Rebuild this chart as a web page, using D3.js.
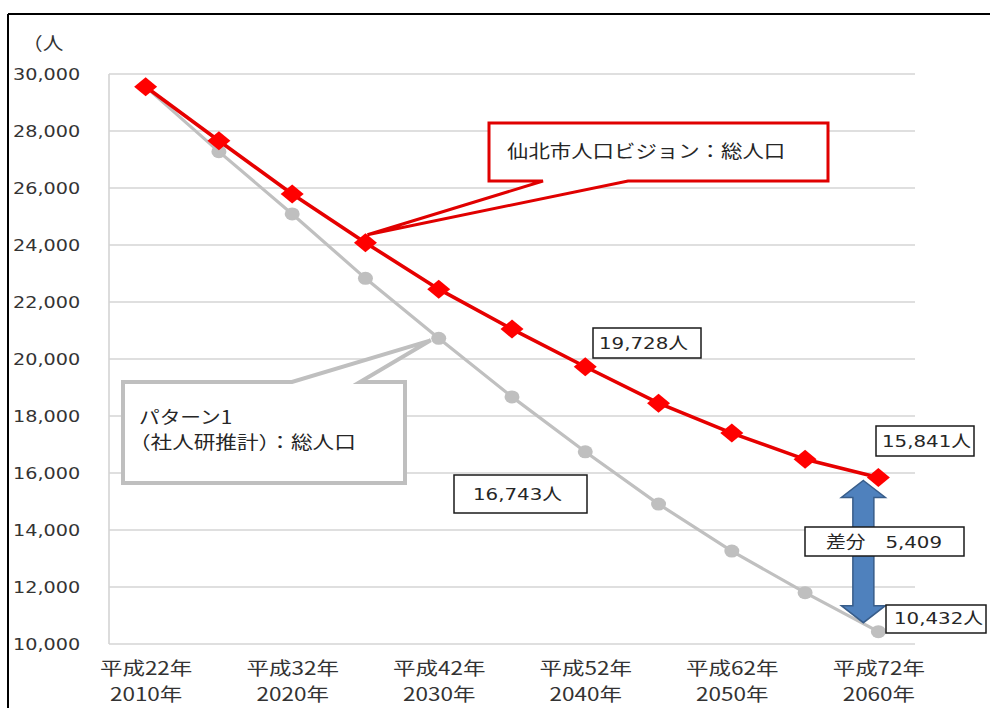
<!DOCTYPE html>
<html><head><meta charset="utf-8">
<script src="https://cdn.jsdelivr.net/npm/d3@7/dist/d3.min.js"></script>
<style>body{margin:0;background:#fff;}svg{display:block;}</style>
</head><body>
<script>
const years = [2010, 2015, 2020, 2025, 2030, 2035, 2040, 2045, 2050, 2055, 2060];
const labeledYears = [2010, 2020, 2030, 2040, 2050, 2060];
const eraLabels = ["平成22年", "平成32年", "平成42年", "平成52年", "平成62年", "平成72年"];
const yearLabels = ["2010年", "2020年", "2030年", "2040年", "2050年", "2060年"];
const yTicks = [10000, 12000, 14000, 16000, 18000, 20000, 22000, 24000, 26000, 28000, 30000];
const visionName = "仙北市人口ビジョン：総人口";
const visionValues = [29550, 27660, 25790, 24080, 22450, 21050, 19728, 18450, 17400, 16480, 15841];
const projName1 = "パターン1";
const projName2 = "（社人研推計）：総人口";
const projValues = [29550, 27275, 25090, 22830, 20725, 18670, 16743, 14910, 13260, 11800, 10432];
const diffLabel = "差分　5,409";
const unitLabel = "（人";

const W = 990, H = 708;
const FONT = "'DejaVu Sans','Noto Sans CJK JP',sans-serif";
const JFONT = "'Noto Sans CJK JP','DejaVu Sans',sans-serif";
const svg = d3.select("body").append("svg").attr("width", W).attr("height", H);

const x = d3.scalePoint().domain(years).range([109, 915]).padding(0.5);
const y = d3.scaleLinear().domain([10000, 30000]).range([644, 74]);

function stext(g, px, py, str, o) {
  o = o || {};
  return g.append("text")
    .attr("transform", `translate(${px},${py}) scale(${o.sx || 1.2},1)`)
    .attr("text-anchor", o.anchor || "start")
    .attr("font-family", o.font || FONT)
    .attr("font-size", o.size || 16)
    .attr("fill", o.fill || "#262626")
    .text(str);
}

// outer frame lines
svg.append("line").attr("x1", 8).attr("x2", W).attr("y1", 14).attr("y2", 14).attr("stroke", "#000").attr("stroke-width", 2);
svg.append("line").attr("x1", 8).attr("x2", 8).attr("y1", 14).attr("y2", H).attr("stroke", "#000").attr("stroke-width", 2);

// gridlines
svg.append("g").selectAll("line").data(yTicks).join("line")
  .attr("x1", 109).attr("x2", 915)
  .attr("y1", d => y(d)).attr("y2", d => y(d))
  .attr("stroke", "#d4d4d4").attr("stroke-width", 1.6);
svg.append("line").attr("x1", 109).attr("x2", 109).attr("y1", y(30000)).attr("y2", y(10000))
  .attr("stroke", "#d4d4d4").attr("stroke-width", 1.6);

// y axis
const ya = svg.append("g").attr("transform", "translate(109,0)")
  .call(d3.axisLeft(y).tickValues(yTicks).tickSize(0).tickFormat(d3.format(",")));
ya.select(".domain").remove();
ya.selectAll("text").attr("x", -24).attr("transform", "scale(1.2,1)")
  .attr("font-family", FONT).attr("font-size", 16).attr("fill", "#333");

// x axis
const xa = svg.append("g").attr("transform", "translate(0,644)")
  .call(d3.axisBottom(x).tickValues(labeledYears).tickSize(0).tickFormat(""));
xa.select(".domain").remove();
xa.selectAll(".tick").each(function (d, i) {
  const t = d3.select(this);
  t.selectAll("text").remove();
  stext(t, 0, 31, eraLabels[i], { anchor: "middle", font: JFONT, size: 18, sx: 1.25, fill: "#333" });
  stext(t, 0, 57, yearLabels[i], { anchor: "middle", font: JFONT, size: 18, sx: 1.25, fill: "#333" });
});

// unit
stext(svg, 22, 50, unitLabel, { font: JFONT, size: 18, sx: 1.15, fill: "#333" });

// lines
const line = d3.line().x((d, i) => x(years[i])).y(d => y(d));
svg.append("path").datum(projValues).attr("d", line).attr("fill", "none")
  .attr("stroke", "#c0c0c0").attr("stroke-width", 3.2);
svg.append("g").selectAll("ellipse").data(projValues).join("ellipse")
  .attr("cx", (d, i) => x(years[i])).attr("cy", d => y(d))
  .attr("rx", 7.5).attr("ry", 6.5).attr("fill", "#bfbfbf");

svg.append("path").datum(visionValues).attr("d", line).attr("fill", "none")
  .attr("stroke", "#e60000").attr("stroke-width", 3.6);
svg.append("g").selectAll("path").data(visionValues).join("path")
  .attr("d", (d, i) => {
    const cx = x(years[i]), cy = y(d), a = 11.5, b = 9.5;
    return `M${cx - a},${cy}L${cx},${cy - b}L${cx + a},${cy}L${cx},${cy + b}Z`;
  }).attr("fill", "#ff0000");

// red callout
{
  const tip = [x(2025) + 2, y(visionValues[3]) - 8];
  const p = `M489,123L828,123L828,181L628,181L${tip[0]},${tip[1]}L543,181L489,181Z`;
  svg.append("path").attr("d", p).attr("fill", "#fff").attr("stroke", "#e00000").attr("stroke-width", 3).attr("stroke-linejoin", "miter");
  stext(svg, 507, 158, visionName, { font: JFONT, size: 18, sx: 1.19, fill: "#262626" });
}
// gray callout
{
  const tip = [x(2030) - 8, y(projValues[4]) + 2];
  const p = `M123,382L292,382L${tip[0]},${tip[1]}L360,382L405,382L405,483L123,483Z`;
  svg.append("path").attr("d", p).attr("fill", "#fff").attr("stroke", "#bfbfbf").attr("stroke-width", 4);
  stext(svg, 139, 424, projName1, { font: JFONT, size: 18, sx: 1.15, fill: "#262626" });
  stext(svg, 129, 449, projName2, { font: JFONT, size: 18, sx: 1.2, fill: "#262626" });
}

// blue double arrow between last values
{
  const cx = x(2060) - 15;
  const top = y(visionValues[10]) + 3, bot = y(projValues[10]) - 9;
  const hw = 22, sw = 10.5, hh = 17;
  const p = `M${cx},${top}L${cx + hw},${top + hh}L${cx + sw},${top + hh}L${cx + sw},${bot - hh}L${cx + hw},${bot - hh}L${cx},${bot}L${cx - hw},${bot - hh}L${cx - sw},${bot - hh}L${cx - sw},${top + hh}L${cx - hw},${top + hh}Z`;
  svg.append("path").attr("d", p).attr("fill", "#4f81bd").attr("stroke", "#385d8a").attr("stroke-width", 1.5);
}

// value boxes
function box(x0, y0, w, h, tx, ty, str, sx) {
  svg.append("rect").attr("x", x0).attr("y", y0).attr("width", w).attr("height", h)
    .attr("fill", "#fff").attr("stroke", "#1a1a1a").attr("stroke-width", 1.5);
  stext(svg, tx, ty, str, { size: 16.5, sx: sx || 1.2, fill: "#262626" });
}
box(593, 328, 108, 30, 599, 349, d3.format(",")(visionValues[6]) + "人");
box(454, 475, 133, 38, 473, 500, d3.format(",")(projValues[6]) + "人");
box(876, 426, 98, 30, 882, 447, d3.format(",")(visionValues[10]) + "人");
box(805, 527, 159, 29, 826, 548, diffLabel);
box(886, 605, 100, 28, 894, 624, d3.format(",")(projValues[10]) + "人");
</script>
</body></html>
